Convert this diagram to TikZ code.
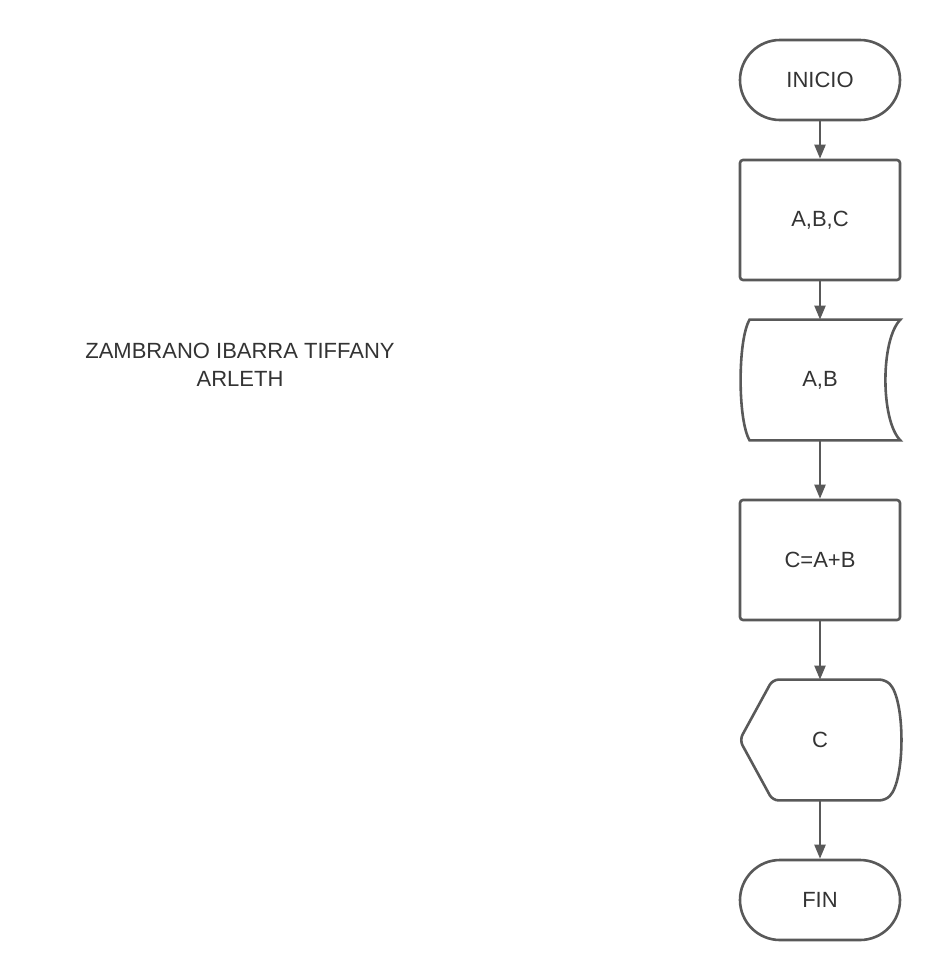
\documentclass[tikz,border=0pt]{standalone}
\usepackage{fontspec}
\setmainfont{Liberation Sans}
\usetikzlibrary{calc,arrows.meta}

\definecolor{linegray}{HTML}{595959}
\definecolor{textgray}{HTML}{333333}

\begin{document}
\begin{tikzpicture}[x=0.5pt,y=-0.5pt,
    every node/.style={text=textgray, font=\fontsize{11}{14}\selectfont},
    terminal/.style={draw=linegray, line width=1.3pt, rounded corners=20pt,
                     minimum width=80pt, minimum height=40pt},
    process/.style={draw=linegray, line width=1.3pt, rounded corners=1.5pt,
                    minimum width=80pt, minimum height=60pt},
    shapebox/.style={minimum width=80pt, minimum height=60pt},
    outline/.style={draw=linegray, line width=1.3pt},
    flow/.style={draw=linegray, line width=1.1pt,
                 -{Triangle[length=7pt,width=5.5pt]}}]

  % Page size (pixels of the reference)
  \useasboundingbox (0,0) rectangle (940,980);

  % Column of the flowchart
  \def\colx{820}

  % Author name
  \node[align=center] (author) at (240,365) {ZAMBRANO IBARRA TIFFANY\\ARLETH};

  % Flowchart nodes
  \node[terminal] (inicio) at (\colx,80)  {INICIO};
  \node[process]  (abc)    at (\colx,220) {A,B,C};
  \node[shapebox] (ab)     at (\colx,380) {A,B};
  \node[process]  (suma)   at (\colx,560) {C=A+B};
  \node[shapebox] (salida) at (\colx,740) {C};
  \node[terminal] (fin)    at (\colx,900) {FIN};

  % Stored data outline round (ab)
  \draw[outline]
    ($(ab.north west)+(10,0)$) -- (ab.north east)
      .. controls ($(ab.north east)+(-20,20)$) and ($(ab.south east)+(-20,-20)$)
      .. (ab.south east)
      -- ($(ab.south west)+(10,0)$)
      .. controls ($(ab.south west)+(-2,-20)$) and ($(ab.north west)+(-2,20)$)
      .. ($(ab.north west)+(10,0)$) -- cycle;

  % Display outline round (salida)
  \draw[outline, rounded corners=3pt]
    (salida.west) -- ($(salida.north west)+(33,0)$)
      -- ($(salida.north east)+(-15,0)$)
      .. controls ($(salida.north east)+(5,20)$) and ($(salida.south east)+(5,-20)$)
      .. ($(salida.south east)+(-15,0)$)
      -- ($(salida.south west)+(33,0)$) -- cycle;

  % Connectors
  \draw[flow] (inicio.south) -- (abc.north);
  \draw[flow] (abc.south)    -- (ab.north);
  \draw[flow] (ab.south)     -- (suma.north);
  \draw[flow] (suma.south)   -- (salida.north);
  \draw[flow] (salida.south) -- (fin.north);

\end{tikzpicture}
\end{document}
